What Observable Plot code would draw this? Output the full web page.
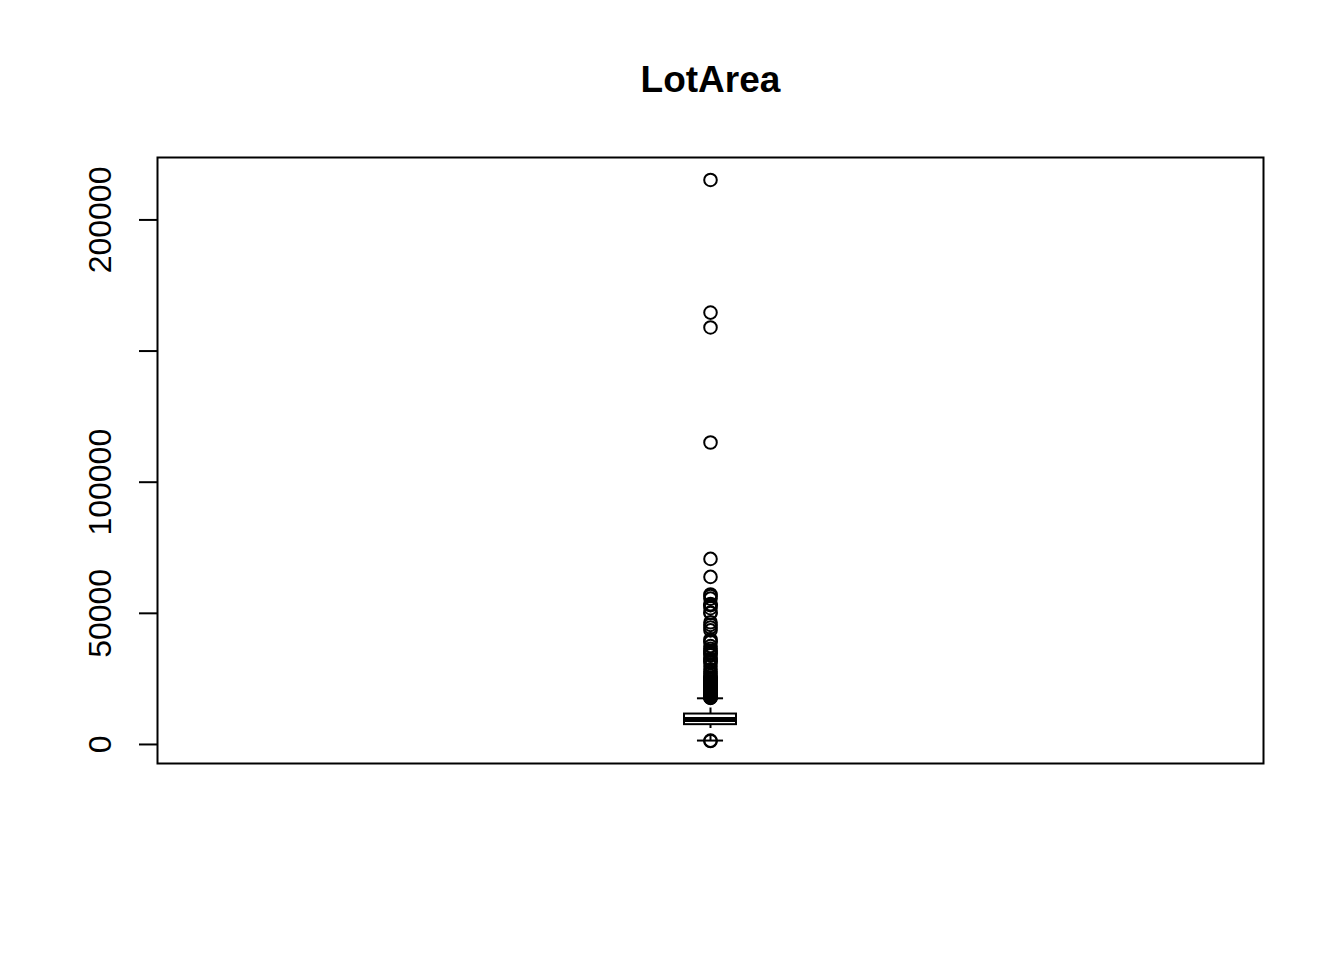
<!DOCTYPE html>
<html>
<head>
<meta charset="utf-8">
<script src="https://cdn.jsdelivr.net/npm/d3@7"></script>
<script src="https://cdn.jsdelivr.net/npm/@observablehq/plot@0.6"></script>
<style>
  html, body { margin: 0; padding: 0; background: #fff; }
  #chart svg { display: block; }
</style>
</head>
<body>
<div id="chart"></div>
<script>
// ---- data ----
const title = "LotArea";
const lowerQuartile = [7553.5];
const medianValue = [9478.5];
const upperQuartile = [11601.5];
const lowerWhisker = [1491];
const upperWhisker = [17600];
const lowOutliers = [1300, 1477];
const highOutliers = [
  215245, 164660, 159000, 115149, 70761, 63887, 57200, 56600, 55600, 53504,
  53227, 53107, 51974, 50271, 50102, 46589, 45600, 44600, 43500, 40094, 39384,
  39104, 37500, 36500, 35760, 35133, 34650, 33983, 32668, 32463, 31770, 31220,
  29959, 28698, 27650, 27000, 26178, 25419, 25339, 25286, 25095, 24682, 24090,
  23730, 23595, 23257, 22950, 22420, 21930, 21872, 21750, 21695, 21533, 21453,
  21384, 21286, 21000, 20896, 20781, 20544, 20431, 20247, 20000, 19900, 19690,
  19378, 19296, 19138, 18890, 18800, 18450, 18386, 18044, 17920, 17871, 17755
];
const yTicks = [0, 50000, 100000, 150000, 200000];
const yTickLabels = ["0", "50000", "100000", "", "200000"];

// ---- build ----
const font = "'Liberation Sans', Arial, sans-serif";
const cx = 0.5;          // single box centre on a [0,1] x scale
const halfBox = 0.0235;  // half box width (scale units)
const halfCap = 0.0118;  // half whisker-cap width
const lw = 2;

const stats = [{
  q1: lowerQuartile[0], med: medianValue[0], q3: upperQuartile[0],
  lo: lowerWhisker[0], hi: upperWhisker[0]
}];
const outliers = [...lowOutliers, ...highOutliers];
const tickRows = yTicks.map((v, i) => ({v, label: yTickLabels[i]}));

const chart = Plot.plot({
  width: 1344,
  height: 960,
  marginLeft: 157,
  marginRight: 81,
  marginTop: 157,
  marginBottom: 197,
  style: {fontFamily: font, background: "white", color: "black"},
  x: {domain: [0, 1], axis: null},
  y: {domain: [-7258, 223803], axis: null},
  marks: [
    Plot.frame({stroke: "black", strokeWidth: lw}),
    // y tick marks (labels drawn separately, rotated)
    Plot.axisY(yTicks, {tickSize: 18, tickFormat: () => "", strokeWidth: lw, stroke: "black"}),
    Plot.text(tickRows, {
      y: "v", text: "label", frameAnchor: "left", dx: -57, rotate: -90,
      fontSize: 32, fill: "black", textAnchor: "middle", lineAnchor: "middle"
    }),
    // whiskers (dashed)
    Plot.ruleX(stats, {x: () => cx, y1: "q3", y2: "hi", stroke: "black", strokeWidth: lw, strokeDasharray: "6,6"}),
    Plot.ruleX(stats, {x: () => cx, y1: "lo", y2: "q1", stroke: "black", strokeWidth: lw, strokeDasharray: "6,6"}),
    // whisker caps
    Plot.ruleY(stats, {y: "hi", x1: () => cx - halfCap, x2: () => cx + halfCap, stroke: "black", strokeWidth: lw}),
    Plot.ruleY(stats, {y: "lo", x1: () => cx - halfCap, x2: () => cx + halfCap, stroke: "black", strokeWidth: lw}),
    // box
    Plot.rect(stats, {x1: () => cx - halfBox, x2: () => cx + halfBox, y1: "q1", y2: "q3",
      fill: "white", stroke: "black", strokeWidth: lw}),
    // median
    Plot.ruleY(stats, {y: "med", x1: () => cx - halfBox, x2: () => cx + halfBox, stroke: "black", strokeWidth: 5}),
    // outliers
    Plot.dot(outliers, {x: () => cx, y: d => d, r: 6.3, stroke: "black", fill: "none", strokeWidth: 2}),
    // title
    Plot.text([title], {text: d => d, frameAnchor: "top", dy: -77, lineAnchor: "middle",
      fontSize: 37, fontWeight: "bold", fill: "black"})
  ]
});
document.getElementById("chart").appendChild(chart);
</script>
</body>
</html>
